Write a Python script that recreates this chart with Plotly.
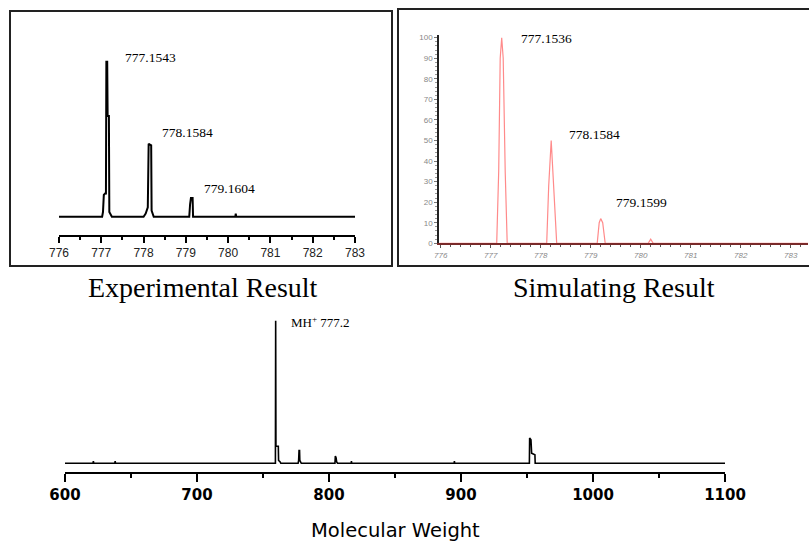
import plotly.graph_objects as go

W, H = 809, 544

# ---- Experimental (top-left) profile: m/z, relative intensity ----
exp_mz = [776.0, 777.02, 777.04, 777.06, 777.09, 777.11, 777.12, 777.14, 777.15, 777.18, 777.19, 777.22, 777.25,
          778.0, 778.05, 778.10, 778.12, 778.18, 778.19, 778.24,
          779.08, 779.10, 779.12, 779.16, 779.17,
          780.17, 780.18, 780.19, 783.0]
exp_int = [0, 0, 3, 14, 15, 15, 100, 100, 65, 65, 3, 1, 0,
           0, 2, 6, 47, 46, 4, 0,
           0, 8, 12, 12, 0,
           0, 2, 0, 0]
exp_labels = ["777.1543", "778.1584", "779.1604"]
exp_label_x = [778.17, 779.05, 780.04]
exp_label_y = [102.8, 54.6, 18.5]

# ---- Simulated (top-right) profile ----
sim_mz = [775.97, 777.12, 777.16, 777.19, 777.22, 777.25, 777.29, 777.33,
          778.12, 778.16, 778.21, 778.26, 778.32,
          779.13, 779.17, 779.20, 779.24, 779.29,
          780.15, 780.20, 780.25, 783.35]
sim_int = [0, 0, 35, 90, 100, 90, 35, 0,
           0, 28, 50, 28, 0,
           0, 10, 12, 10, 0,
           0, 2, 0, 0]
sim_labels = ["777.1536", "778.1584", "779.1599"]
sim_label_x = [778.12, 779.07, 780.02]
sim_label_y = [99.7, 53.0, 19.7]

# ---- Full spectrum (bottom) ----
ms_mw = [600, 621.2, 621.5, 621.8, 637.7, 638.0, 638.3,
         759.4, 759.6, 759.8, 761.6, 761.8, 763.0, 763.5,
         776.6, 777.0, 777.3, 777.7, 777.9, 778.5, 779.0,
         804.5, 804.8, 805.3, 805.8, 806.5,
         816.8, 817.0, 817.2, 894.8, 895.0, 895.2,
         951.8, 952.0, 953.0, 953.5, 956.0, 956.2, 1100]
ms_int = [0, 0, 1.5, 0, 0, 1.5, 0,
          0, 100, 12, 12, 2, 1, 0,
          0, 2, 9, 9, 2, 1, 0,
          0, 5, 4, 1, 0,
          0, 1.5, 0, 0, 1.5, 0,
          0, 17.8, 16.5, 7, 6, 0, 0]
ms_ticks = [600, 700, 800, 900, 1000, 1100]

exp_ticks = [776, 777, 778, 779, 780, 781, 782, 783]
sim_yticks = [0, 10, 20, 30, 40, 50, 60, 70, 80, 90, 100]


def xd(a, b):
    return [a / W, b / W]


def yd(top, bottom):
    return [1 - bottom / H, 1 - top / H]


fig = go.Figure()
fig.add_trace(go.Scatter(x=exp_mz, y=exp_int, mode="lines", line=dict(color="black", width=2),
                         xaxis="x", yaxis="y", showlegend=False, hoverinfo="skip"))
fig.add_trace(go.Scatter(x=sim_mz, y=sim_int, mode="lines", line=dict(color="#ff8a8a", width=1.2),
                         xaxis="x2", yaxis="y2", showlegend=False, hoverinfo="skip", cliponaxis=False))
fig.add_trace(go.Scatter(x=ms_mw, y=ms_int, mode="lines", line=dict(color="black", width=1.6),
                         xaxis="x3", yaxis="y3", showlegend=False, hoverinfo="skip"))

annotations = []
for t, x, y in zip(exp_labels, exp_label_x, exp_label_y):
    annotations.append(dict(text=t, x=x, y=y, xref="x", yref="y", showarrow=False, xanchor="center",
                            font=dict(family="Liberation Serif", size=13.5, color="black")))
for t, x, y in zip(sim_labels, sim_label_x, sim_label_y):
    annotations.append(dict(text=t, x=x, y=y, xref="x2", yref="y2", showarrow=False, xanchor="center",
                            font=dict(family="Liberation Serif", size=13.5, color="black")))
annotations.append(dict(text="MH<sup>+</sup> 777.2", x=769.9, y=99.3, xref="x3", yref="y3",
                        xanchor="left", showarrow=False,
                        font=dict(family="Liberation Serif", size=13, color="black")))
annotations.append(dict(text="Experimental Result", x=203 / W, y=1 - 287 / H, xref="paper", yref="paper",
                        xanchor="center", yanchor="middle",
                        showarrow=False, font=dict(family="Liberation Serif", size=28, color="black")))
annotations.append(dict(text="Simulating Result", x=614 / W, y=1 - 287 / H, xref="paper", yref="paper",
                        xanchor="center", yanchor="middle",
                        showarrow=False, font=dict(family="Liberation Serif", size=28, color="black")))
annotations.append(dict(text="Molecular Weight", x=395 / W, y=1 - 530 / H, xref="paper", yref="paper",
                        xanchor="center", yanchor="middle",
                        showarrow=False, font=dict(family="DejaVu Sans", size=19.5, color="black")))

shapes = [
    dict(type="rect", xref="paper", yref="paper", x0=10 / W, x1=392 / W, y0=1 - 266 / H, y1=1 - 11 / H,
         line=dict(color="#222", width=2)),
    dict(type="rect", xref="paper", yref="paper", x0=398 / W, x1=812 / W, y0=1 - 266 / H, y1=1 - 9 / H,
         line=dict(color="#222", width=2)),
]

fig.update_layout(
    width=W, height=H, margin=dict(l=0, r=0, t=0, b=0, autoexpand=False),
    plot_bgcolor="white", paper_bgcolor="white", showlegend=False,
    annotations=annotations, shapes=shapes,
    xaxis=dict(domain=xd(59, 355), range=[776, 783], anchor="y",
               showline=True, linecolor="black", linewidth=2, showgrid=False, zeroline=False,
               tickmode="array", tickvals=exp_ticks, ticks="outside", ticklen=6, tickwidth=1.5,
               tickcolor="black", tickfont=dict(family="Liberation Sans", size=12, color="#222"),
               minor=dict(dtick=0.5, ticks="outside", ticklen=3, tickcolor="black", tickwidth=1.5)),
    yaxis=dict(domain=yd(55, 235), range=[-11.8, 104.3], anchor="x", visible=False),
    xaxis2=dict(domain=xd(439.3, 808), range=[775.972, 783.346], anchor="y2",
                showline=True, linecolor="#7a2a2a", linewidth=2, showgrid=False, zeroline=False,
                tickmode="array", tickvals=exp_ticks, ticks="outside", ticklen=3, tickwidth=1,
                tickcolor="#555", tickfont=dict(family="Liberation Sans", size=8, color="#888", style="italic"),
                minor=dict(dtick=0.2, ticks="outside", ticklen=2, tickcolor="#555", tickwidth=1)),
    yaxis2=dict(domain=yd(35, 243.3), range=[0, 101.3], anchor="x2",
                showline=True, linecolor="#222", linewidth=2, showgrid=False, zeroline=False,
                tickmode="array", tickvals=sim_yticks, ticks="outside", ticklen=3, tickwidth=1,
                tickcolor="#777", tickfont=dict(family="Liberation Sans", size=8, color="#888"),
                minor=dict(dtick=2, ticks="outside", ticklen=2, tickcolor="#999", tickwidth=1)),
    xaxis3=dict(domain=xd(65, 725), range=[600, 1100], anchor="y3",
                showline=True, linecolor="black", linewidth=2, showgrid=False, zeroline=False,
                tickmode="array", tickvals=ms_ticks, ticks="outside", ticklen=8, tickwidth=2,
                tickcolor="black", tickfont=dict(family="DejaVu Sans", size=15, color="black", weight="bold"),
                minor=dict(dtick=50, ticks="outside", ticklen=4, tickcolor="black", tickwidth=2)),
    yaxis3=dict(domain=yd(318, 471.7), range=[-5.9, 101.9], anchor="x3", visible=False),
)

fig.write_html("out.html", config={"displayModeBar": False},
               post_script="document.body.style.margin='0';document.body.style.overflow='hidden';")
